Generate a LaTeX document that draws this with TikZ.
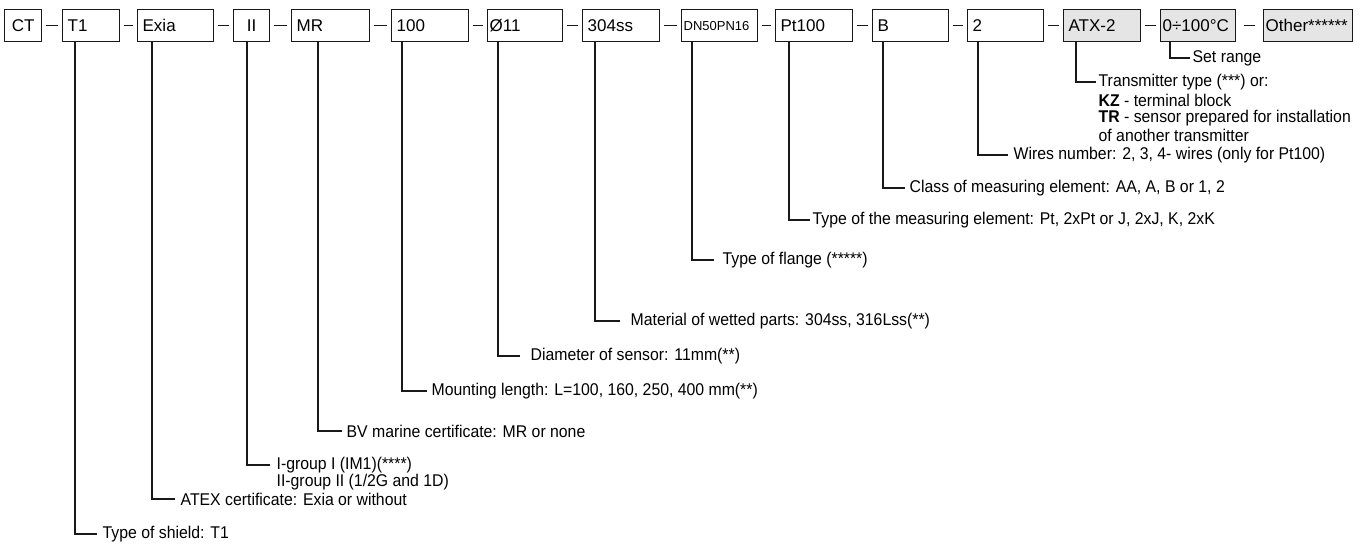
\documentclass[tikz,border=0pt]{standalone}
\usepackage{fontspec}
\setmainfont{Liberation Sans}
\newfontfamily\narrowfont[FakeStretch=0.93]{Liberation Sans}
\usetikzlibrary{positioning}

\def\boxfont{\fontsize{17}{17}\selectfont}
\def\notefont{\narrowfont\fontsize{17}{17}\selectfont}

\begin{document}
\begin{tikzpicture}[x=1pt,y=-1pt,line width=1.3pt,draw=black!90]
    \tikzstyle{field}=[draw,anchor=north west,minimum height=32pt,inner xsep=5pt,inner ysep=0pt,font=\boxfont,align=left]
    \tikzstyle{grey field}=[field,fill=black!10]
    \tikzstyle{note}=[anchor=west,inner sep=0pt,font=\notefont]
    \tikzstyle{link}=[shorten <=4pt,shorten >=4pt]
    \tikzstyle{leg}=[shorten >=5pt]

    \useasboundingbox (0,0) rectangle (1366,544);

    % Draw the code fields
    \node[field,minimum width=37pt] (CT) at (4,9) {CT};
    \node[field,text width=47pt] (T1) at (62,9) {T1};
    \node[field,text width=66pt] (Exia) at (137,9) {Exia};
    \node[field,minimum width=36pt] (II) at (233,9) {II};
    \node[field,text width=68pt] (MR) at (291,9) {MR};
    \node[field,text width=67pt] (L) at (391,9) {100};
    \node[field,text width=71pt,inner xsep=2pt] (D) at (487,9) {Ø11};
    \node[field,text width=67pt] (Mat) at (582,9) {304ss};
    \node[field,text width=72pt,inner xsep=2pt,font=\fontsize{13}{13}\selectfont] (Fl) at (681,9) {DN50PN16};
    \node[field,text width=67pt] (Pt) at (775,9) {Pt100};
    \node[field,text width=66pt] (Cl) at (872,9) {B};
    \node[field,text width=66pt] (W) at (967,9) {2};
    \node[grey field,text width=67pt] (ATX) at (1063,9) {ATX-2};
    \node[grey field,text width=71pt,inner xsep=2pt] (R) at (1160,9) {0÷100°C};
    \node[grey field,text width=85pt,inner xsep=2pt] (O) at (1263,9) {Other******};

    % Dashes between the fields
    \draw[link] (CT) -- (T1);
    \draw[link] (T1) -- (Exia);
    \draw[link] (Exia) -- (II);
    \draw[link] (II) -- (MR);
    \draw[link] (MR) -- (L);
    \draw[link] (L) -- (D);
    \draw[link] (D) -- (Mat);
    \draw[link] (Mat) -- (Fl);
    \draw[link] (Fl) -- (Pt);
    \draw[link] (Pt) -- (Cl);
    \draw[link] (Cl) -- (W);
    \draw[link] (W) -- (ATX);
    \draw[link] (ATX) -- (R);
    \draw[link,shorten <=8pt,shorten >=8pt] (R) -- (O);

    % Explanations
    \node[note] (setr) at (1192,58) {Set range};
    \node[note] (trans) at (1098,82) {Transmitter type (***) or:};
    \node[note] (kz) at (1098,100) {\textbf{KZ} - terminal block};
    \node[note] (tr) at (1098,118) {\textbf{TR} - sensor prepared for installation};
    \node[note] (tr2) at (1098,135) {of another transmitter};
    \node[note] (wires) at (1013,155) {Wires number: 2, 3, 4- wires (only for Pt100)};
    \node[note] (class) at (909,188) {Class of measuring element: AA, A, B or 1, 2};
    \node[note] (elem) at (812,220) {Type of the measuring element: Pt, 2xPt or J, 2xJ, K, 2xK};
    \node[note] (flange) at (722,260) {Type of flange (*****)};
    \node[note] (wet) at (630,321) {Material of wetted parts: 304ss, 316Lss(**)};
    \node[note] (diam) at (530,356) {Diameter of sensor: 11mm(**)};
    \node[note] (mount) at (431,391) {Mounting length: L=100, 160, 250, 400 mm(**)};
    \node[note] (bv) at (346,431) {BV marine certificate: MR or none};
    \node[note] (grp) at (276,465) {I-group I (IM1)(****)};
    \node[note] (grp2) at (276,482) {II-group II (1/2G and 1D)};
    \node[note] (atex) at (180,499) {ATEX certificate: Exia or without};
    \node[note] (shield) at (102,534) {Type of shield: T1};

    % Legs from the fields down to the explanations
    \draw[leg,shorten >=2pt] ([xshift=10pt]R.south west) |- (setr.west);
    \draw[leg,shorten >=2pt] ([xshift=13pt]ATX.south west) |- (trans.west);
    \draw[leg] ([xshift=11pt]W.south west) |- (wires.west);
    \draw[leg,shorten >=4pt] ([xshift=11pt]Cl.south west) |- (class.west);
    \draw[leg,shorten >=2pt] ([xshift=14pt]Pt.south west) |- (elem.west);
    \draw[leg,shorten >=8pt] ([xshift=11pt]Fl.south west) |- (flange.west);
    \draw[leg,shorten >=10pt] ([xshift=13pt]Mat.south west) |- (wet.west);
    \draw[leg,shorten >=10pt] ([xshift=11pt]D.south west) |- (diam.west);
    \draw[leg,shorten >=4pt] ([xshift=11pt]L.south west) |- (mount.west);
    \draw[leg,shorten >=4pt] ([xshift=27pt]MR.south west) |- (bv.west);
    \draw[leg,shorten >=6pt] ([xshift=14pt]II.south west) |- (grp.west);
    \draw[leg] ([xshift=15pt]Exia.south west) |- (atex.west);
    \draw[leg] ([xshift=13pt]T1.south west) |- (shield.west);
\end{tikzpicture}
\end{document}
